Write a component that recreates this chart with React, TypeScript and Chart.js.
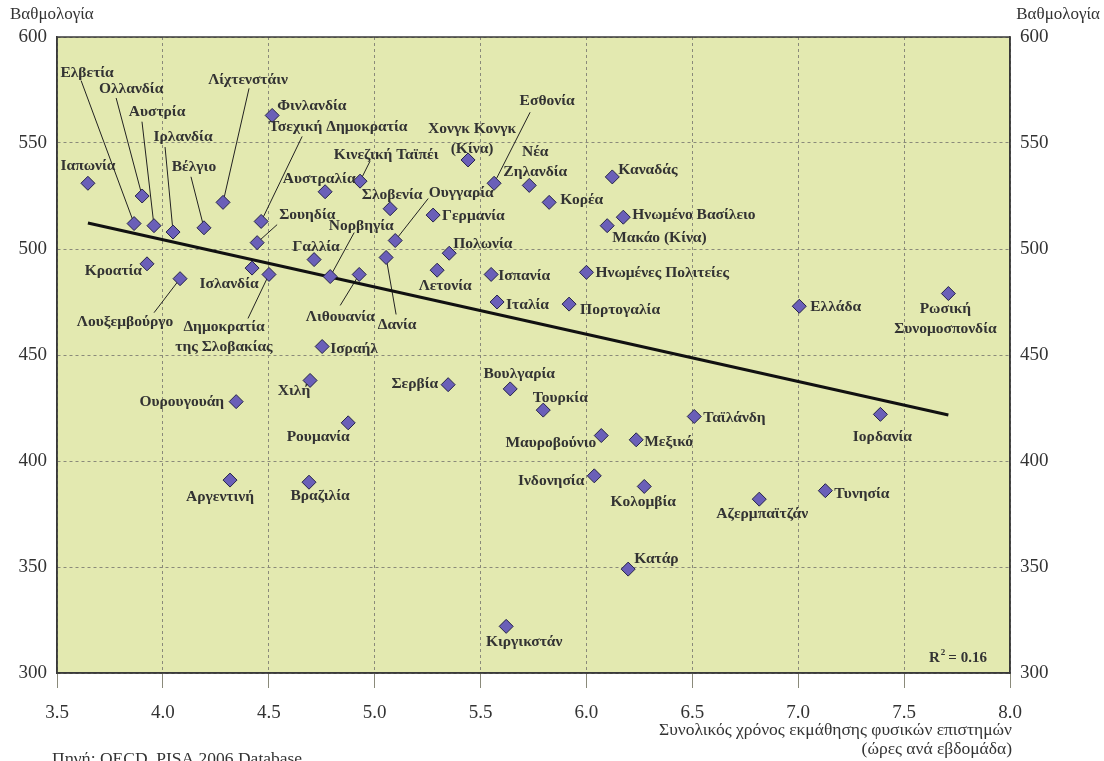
import React, { useEffect, useRef } from 'react';
import { Chart, registerables } from 'chart.js';

Chart.register(...registerables);

// ---- Data ----
const countries: string[] = [
  'Ιαπωνία', 'Ελβετία', 'Ολλανδία', 'Αυστρία', 'Ιρλανδία', 'Βέλγιο', 'Λίχτενστάιν', 'Φινλανδία',
  'Τσεχική Δημοκρατία', 'Σουηδία', 'Αυστραλία', 'Κινεζική Ταϊπέι', 'Σλοβενία', 'Ουγγαρία', 'Γερμανία',
  'Χονγκ Κονγκ\n(Κίνα)', 'Εσθονία', 'Νέα\nΖηλανδία', 'Κορέα', 'Καναδάς', 'Ηνωμένο Βασίλειο', 'Μακάο (Κίνα)',
  'Πολωνία', 'Λετονία', 'Ισπανία', 'Ιταλία', 'Ηνωμένες Πολιτείες', 'Πορτογαλία', 'Ελλάδα',
  'Ρωσική\nΣυνομοσπονδία', 'Κροατία', 'Λουξεμβούργο', 'Ισλανδία', 'Δημοκρατία\nτης Σλοβακίας', 'Γαλλία',
  'Νορβηγία', 'Λιθουανία', 'Δανία', 'Ισραήλ', 'Χιλή', 'Ουρουγουάη', 'Ρουμανία', 'Σερβία', 'Βουλγαρία',
  'Τουρκία', 'Μαυροβούνιο', 'Μεξικό', 'Ταϊλάνδη', 'Ινδονησία', 'Κολομβία', 'Αζερμπαϊτζάν', 'Ιορδανία',
  'Τυνησία', 'Κατάρ', 'Κιργικστάν', 'Αργεντινή', 'Βραζιλία',
];

const hours: number[] = [
  3.646, 3.864, 3.902, 3.958, 4.048, 4.194, 4.284, 4.516,
  4.464, 4.445, 4.766, 4.931, 5.073, 5.097, 5.276,
  5.441, 5.564, 5.73, 5.824, 6.122, 6.174, 6.098,
  5.352, 5.295, 5.55, 5.578, 6.0, 5.918, 7.005,
  7.709, 3.925, 4.081, 4.421, 4.501, 4.714,
  4.79, 4.927, 5.054, 4.752, 4.695, 4.346, 4.875, 5.347, 5.64,
  5.796, 6.07, 6.235, 6.509, 6.037, 6.273, 6.816, 7.388,
  7.128, 6.197, 5.621, 4.317, 4.69,
];

const scores: number[] = [
  531, 512, 525, 511, 508, 510, 522, 563,
  513, 503, 527, 532, 519, 504, 516,
  542, 531, 530, 522, 534, 515, 511,
  498, 490, 488, 475, 489, 474, 473,
  479, 493, 486, 491, 488, 495,
  487, 488, 496, 454, 438, 428, 418, 436, 434,
  424, 412, 410, 421, 393, 388, 382, 422,
  386, 349, 322, 391, 390,
];

const trendHours: number[] = [3.646, 7.709];
const trendScores: number[] = [512.3, 421.7];

const xTickLabels: string[] = ['3.5', '4.0', '4.5', '5.0', '5.5', '6.0', '6.5', '7.0', '7.5', '8.0'];
const yTickValues: number[] = [300, 350, 400, 450, 500, 550, 600];

const rSquaredText = '0.16';

// ---- Label layout (pixel offsets from the marker): dx, dy, align, leaderDx, leaderDy ----
type Layout = [number, number, 'l' | 'c' | 'r', number?, number?];
const labelLayout: Layout[] = [
  [0, -17, 'c'],
  [-47, -151, 'c', -53, -143],
  [-11, -107, 'c', -26, -98],
  [3, -114, 'c', -12, -104],
  [10, -95, 'c', -8, -85],
  [-10, -61, 'c', -13, -51],
  [25, -122, 'c', 26, -114],
  [5, -9, 'l'],
  [77, -94, 'c', 41, -85],
  [22, -28, 'l', 20, -18],
  [-6, -13, 'c'],
  [26, -26, 'c', 10, -20],
  [2, -14, 'c'],
  [66, -48, 'c', 33, -42],
  [9, 1, 'l'],
  [4, -31, 'c'],
  [53, -82, 'c', 36, -71],
  [6, -33, 'c'],
  [11, -2, 'l'],
  [6, -7, 'l'],
  [9, -2, 'l'],
  [5, 12, 'l'],
  [4, -9, 'l'],
  [8, 16, 'c'],
  [7, 2, 'l'],
  [9, 3, 'l'],
  [9, 1, 'l'],
  [11, 6, 'l'],
  [11, 1, 'l'],
  [-3, 15, 'c'],
  [-5, 7, 'r'],
  [-55, 43, 'c', -26, 34],
  [-23, 16, 'c'],
  [-45, 53, 'c', -21, 44],
  [2, -13, 'c'],
  [31, -51, 'c', 24, -44],
  [-19, 43, 'c', -19, 31],
  [11, 68, 'c', 10, 57],
  [8, 2, 'l'],
  [-16, 11, 'c'],
  [-12, 0, 'r'],
  [-30, 14, 'c'],
  [-10, -1, 'r'],
  [9, -15, 'c'],
  [17, -12, 'c'],
  [-5, 7, 'r'],
  [8, 2, 'l'],
  [9, 2, 'l'],
  [-10, 5, 'r'],
  [-1, 16, 'c'],
  [3, 15, 'c'],
  [2, 23, 'c'],
  [9, 3, 'l'],
  [6, -10, 'l'],
  [18, 16, 'c'],
  [-10, 17, 'c'],
  [11, 14, 'c'],
];

const SERIF = "'Liberation Serif', 'DejaVu Serif', serif";
const TEXT = '#333333';
const PLOT_BG = '#e3e9b0';
const GRID = '#8a8a7a';
const FRAME = '#3a3a3a';

const framePlugin = {
  id: 'frameAndBg',
  beforeDraw(chart: any) {
    const { ctx, chartArea: a } = chart;
    ctx.save();
    ctx.fillStyle = '#ffffff';
    ctx.fillRect(0, 0, chart.width, chart.height);
    ctx.fillStyle = PLOT_BG;
    ctx.fillRect(a.left, a.top, a.right - a.left, a.bottom - a.top);
    ctx.restore();
  },
  afterDraw(chart: any) {
    const { ctx, chartArea: a } = chart;
    ctx.save();
    ctx.strokeStyle = FRAME;
    ctx.lineWidth = 1.5;
    ctx.strokeRect(a.left, a.top, a.right - a.left, a.bottom - a.top);

    // axis titles
    ctx.fillStyle = TEXT;
    ctx.font = `17px ${SERIF}`;
    ctx.textBaseline = 'middle';
    ctx.textAlign = 'left';
    ctx.fillText('Βαθμολογία', 10, 15);
    ctx.textAlign = 'right';
    ctx.fillText('Βαθμολογία', 1100, 15);

    ctx.font = `17.5px ${SERIF}`;
    ctx.textAlign = 'right';
    ctx.fillText('Συνολικός χρόνος εκμάθησης φυσικών επιστημών', a.right + 2, 730);
    ctx.fillText('(ώρες ανά εβδομάδα)', a.right + 2, 749);

    ctx.textAlign = 'left';
    ctx.fillText('Πηγή: OECD, PISA 2006 Database.', 52, 759);

    // R squared
    ctx.font = `bold 15px ${SERIF}`;
    ctx.fillStyle = '#333';
    let x = 929;
    const y = 658;
    ctx.textAlign = 'left';
    ctx.fillText('R', x, y);
    x += ctx.measureText('R').width + 1;
    ctx.font = `bold 9px ${SERIF}`;
    ctx.fillText('2', x, y - 5);
    x += ctx.measureText('2').width + 3;
    ctx.font = `bold 15px ${SERIF}`;
    ctx.fillText('= ' + rSquaredText, x, y);
    ctx.restore();
  },
};

const labelsPlugin = {
  id: 'countryLabels',
  beforeDatasetsDraw(chart: any) {
    const meta = chart.getDatasetMeta(0);
    const { ctx } = chart;
    ctx.save();
    ctx.strokeStyle = '#222';
    ctx.lineWidth = 1;
    meta.data.forEach((el: any, i: number) => {
      const lay = labelLayout[i];
      if (!lay || lay[3] === undefined) return;
      ctx.beginPath();
      ctx.moveTo(el.x, el.y);
      ctx.lineTo(el.x + (lay[3] as number), el.y + (lay[4] as number));
      ctx.stroke();
    });
    ctx.restore();
  },
  afterDatasetsDraw(chart: any) {
    const meta = chart.getDatasetMeta(0);
    const { ctx } = chart;
    ctx.save();
    ctx.fillStyle = TEXT;
    ctx.font = `bold 15.5px ${SERIF}`;
    ctx.textBaseline = 'middle';
    meta.data.forEach((el: any, i: number) => {
      const lay = labelLayout[i];
      if (!lay) return;
      const [dx, dy, al] = lay;
      ctx.textAlign = al === 'l' ? 'left' : al === 'r' ? 'right' : 'center';
      const lines = countries[i].split('\n');
      lines.forEach((t, k) => {
        ctx.fillText(t, el.x + dx, el.y + dy + k * 20);
      });
    });
    ctx.restore();
  },
};

export default function App() {
  const ref = useRef<HTMLCanvasElement | null>(null);

  useEffect(() => {
    if (!ref.current) return;
    const chart = new Chart(ref.current, {
      type: 'scatter',
      data: {
        datasets: [
          {
            label: 'countries',
            data: hours.map((h, i) => ({ x: h, y: scores[i] })),
            pointStyle: 'rectRot',
            pointRadius: 7,
            pointHoverRadius: 7,
            backgroundColor: '#6a5fb8',
            borderColor: '#25234a',
            borderWidth: 1,
            order: 0,
          },
          {
            type: 'line',
            label: 'trend',
            data: trendHours.map((h, i) => ({ x: h, y: trendScores[i] })),
            borderColor: '#111111',
            borderWidth: 3,
            pointRadius: 0,
            showLine: true,
            fill: false,
            order: 1,
          } as any,
        ],
      },
      options: {
        animation: false,
        responsive: false,
        devicePixelRatio: 1,
        layout: { padding: { top: 37, left: 0, right: 0, bottom: 0 } },
        plugins: {
          legend: { display: false },
          tooltip: { enabled: false },
        },
        scales: {
          x: {
            type: 'linear',
            min: 3.5,
            max: 8,
            ticks: {
              stepSize: 0.5,
              color: TEXT,
              font: { family: SERIF, size: 19 },
              padding: 14,
              callback: (_v: any, idx: number) => xTickLabels[idx],
            },
            grid: { color: GRID, lineWidth: 1, tickLength: 15, drawTicks: true },
            border: { display: true, color: FRAME, width: 1.5, dash: [3, 3] },
            afterFit: (s: any) => { s.height = 88; },
          },
          y: {
            type: 'linear',
            position: 'left',
            min: 300,
            max: 600,
            afterBuildTicks: (s: any) => { s.ticks = yTickValues.map((v) => ({ value: v })); },
            ticks: { color: TEXT, font: { family: SERIF, size: 19 }, padding: 10 },
            grid: { color: GRID, lineWidth: 1, drawTicks: false },
            border: { display: true, color: FRAME, width: 1.5, dash: [3, 3] },
            afterFit: (s: any) => { s.width = 57; },
          },
          y2: {
            type: 'linear',
            position: 'right',
            min: 300,
            max: 600,
            afterBuildTicks: (s: any) => { s.ticks = yTickValues.map((v) => ({ value: v })); },
            ticks: { color: TEXT, font: { family: SERIF, size: 19 }, padding: 10 },
            grid: { display: false, drawTicks: false },
            border: { display: true, color: FRAME, width: 1.5 },
            afterFit: (s: any) => { s.width = 94; },
          },
        },
      } as any,
      plugins: [framePlugin, labelsPlugin],
    });
    return () => chart.destroy();
  }, []);

  return (
    <div style={{ position: 'fixed', left: 0, top: 0, width: 1104, height: 761, background: '#fff' }}>
      <canvas ref={ref} width={1104} height={761} style={{ display: 'block', width: 1104, height: 761 }} />
    </div>
  );
}
